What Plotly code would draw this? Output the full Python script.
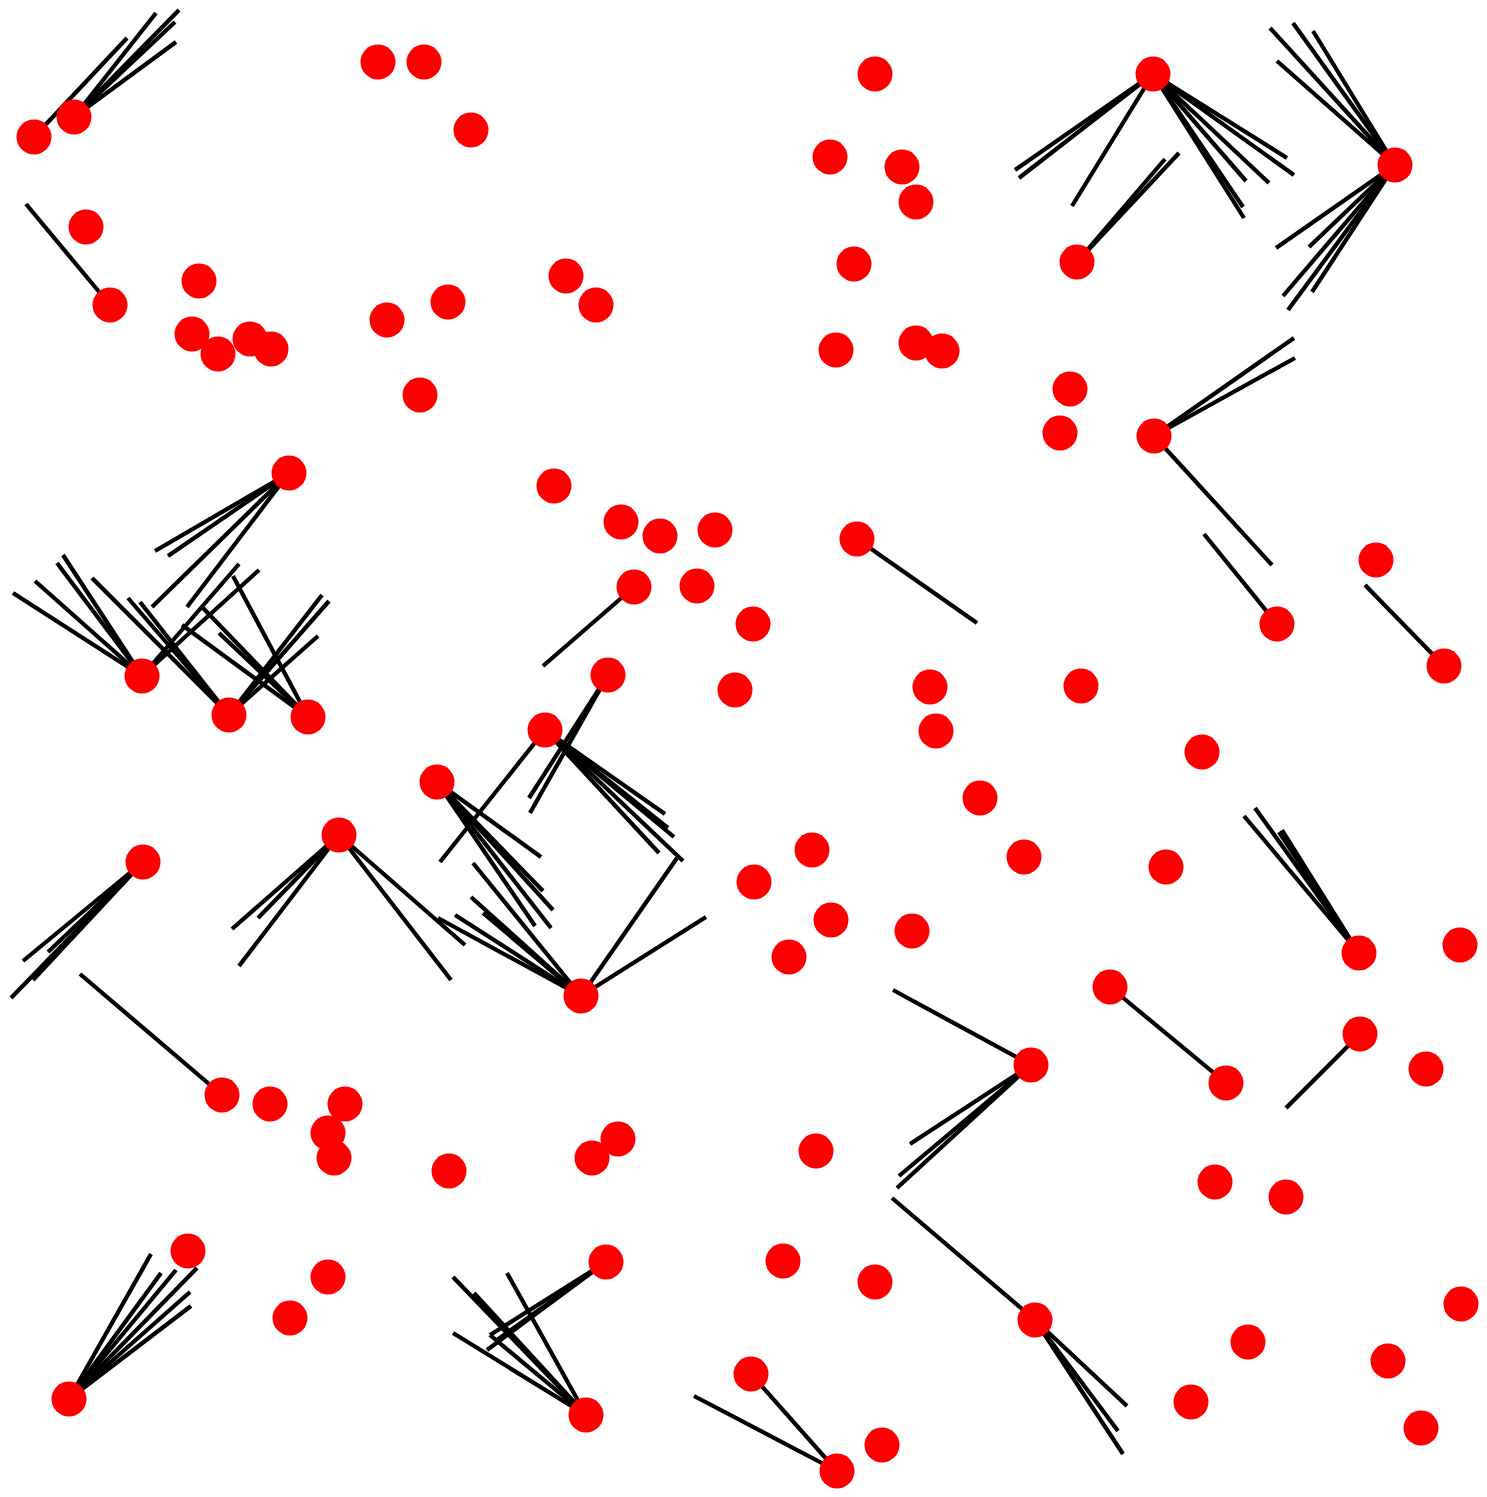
import plotly.graph_objects as go

# Node positions (data units; y grows downward)
node_x = [34, 74, 378, 424, 471, 86, 110, 199, 192, 218,
          250, 271, 387, 448, 420, 289, 875, 830, 902, 916,
          854, 566, 596, 836, 916, 942, 554, 1153, 1395, 1077,
          1070, 1060, 1154, 142, 229, 308, 437, 339, 143, 621,
          660, 715, 857, 634, 697, 753, 608, 735, 545, 930,
          936, 980, 812, 754, 831, 912, 789, 581, 1376, 1277,
          1444, 1081, 1202, 1024, 1166, 1359, 1460, 1110, 222, 270,
          345, 328, 334, 449, 188, 328, 290, 69, 618, 592,
          816, 606, 783, 875, 586, 751, 837, 882, 1031, 1226,
          1360, 1426, 1215, 1286, 1035, 1461, 1248, 1388, 1191, 1421]
node_y = [137, 117, 62, 62, 130, 227, 305, 281, 334, 354,
          339, 349, 320, 302, 395, 473, 74, 157, 167, 202,
          264, 276, 305, 350, 343, 351, 486, 74, 165, 262,
          389, 433, 436, 676, 715, 717, 782, 835, 862, 522,
          536, 530, 539, 587, 586, 624, 675, 690, 730, 687,
          731, 798, 850, 882, 920, 931, 957, 996, 560, 624,
          666, 686, 752, 857, 867, 953, 945, 987, 1095, 1104,
          1104, 1133, 1158, 1171, 1251, 1277, 1318, 1399, 1139, 1158,
          1151, 1262, 1261, 1282, 1415, 1374, 1471, 1445, 1065, 1083,
          1034, 1069, 1182, 1197, 1320, 1304, 1342, 1361, 1402, 1428]

# Edges: source node index and free end point
edge_src = [0, 1, 1, 1, 1, 6,
            15, 15, 15, 15,
            27, 27, 27, 27, 27, 27, 27, 27, 27,
            29, 29,
            28, 28, 28, 28, 28, 28, 28, 28, 28,
            32, 32, 32,
            59, 60, 42, 43, 46, 46,
            48, 48, 48, 48, 48, 48,
            33, 33, 33, 33, 33, 33,
            34, 34, 34, 34, 34, 34,
            35, 35, 35, 35,
            36, 36, 36, 36, 36,
            37, 37, 37, 37, 37,
            38, 38, 38, 38,
            57, 57, 57, 57, 57, 57, 57,
            65, 65, 65, 65,
            89, 90,
            88, 88, 88, 88,
            94, 94, 94, 94,
            68,
            77, 77, 77, 77, 77, 77,
            81, 81, 81,
            84, 84, 84, 84, 84,
            86, 86]
edge_end_x = [127, 156, 179, 175, 176, 26,
              155, 168, 152, 187,
              1015, 1019, 1072, 1287, 1294, 1269, 1246, 1243, 1244,
              1165, 1179,
              1270, 1293, 1313, 1277, 1276, 1309, 1283, 1288, 1312,
              1294, 1295, 1272,
              1204, 1365, 977, 543, 530, 529,
              440, 665, 668, 674, 659, 683,
              13, 35, 57, 63, 239, 259,
              128, 140, 92, 322, 329, 318,
              182, 203, 219, 233,
              541, 543, 553, 535, 551,
              232, 258, 239, 451, 465,
              23, 48, 11, 33,
              677, 706, 473, 471, 455, 483, 438,
              1244, 1255, 1279, 1282,
              1110, 1286,
              893, 910, 899, 897,
              892, 1127, 1118, 1123,
              80,
              151, 161, 176, 197, 190, 191,
              487, 497, 490,
              453, 474, 507, 453, 490,
              694, 751]
edge_end_y = [38, 13, 10, 22, 42, 204,
              551, 556, 607, 607,
              170, 178, 206, 158, 175, 183, 181, 207, 218,
              159, 153,
              28, 23, 31, 61, 248, 247, 296, 310, 292,
              338, 358, 565,
              534, 585, 623, 666, 813, 798,
              862, 814, 828, 837, 853, 861,
              593, 581, 563, 555, 564, 570,
              598, 602, 578, 595, 601, 636,
              625, 608, 633, 576,
              857, 891, 910, 926, 928,
              929, 918, 966, 980, 945,
              961, 952, 998, 980,
              858, 917, 863, 897, 915, 913, 918,
              816, 808, 832, 830,
              987, 1108,
              990, 1144, 1176, 1188,
              1198, 1406, 1431, 1454,
              974,
              1254, 1273, 1270, 1268, 1292, 1306,
              1350, 1340, 1335,
              1277, 1293, 1273, 1333, 1335,
              1396, 1374]

lx, ly = [], []
for s, ex, ey in zip(edge_src, edge_end_x, edge_end_y):
    lx += [node_x[s], ex, None]
    ly += [node_y[s], ey, None]

fig = go.Figure()
fig.add_trace(go.Scatter(x=lx, y=ly, mode="lines",
                         line=dict(color="black", width=4.2),
                         hoverinfo="skip", showlegend=False))
fig.add_trace(go.Scatter(x=node_x, y=node_y, mode="markers",
                         marker=dict(color="#ff0000", size=35, line=dict(width=0)),
                         showlegend=False))

fig.update_layout(width=1487, height=1497,
                  margin=dict(l=0, r=0, t=0, b=0),
                  paper_bgcolor="white", plot_bgcolor="white",
                  xaxis=dict(range=[0, 1487], visible=False, fixedrange=True),
                  yaxis=dict(range=[1497, 0], visible=False, fixedrange=True))
fig.write_html("out.html")
